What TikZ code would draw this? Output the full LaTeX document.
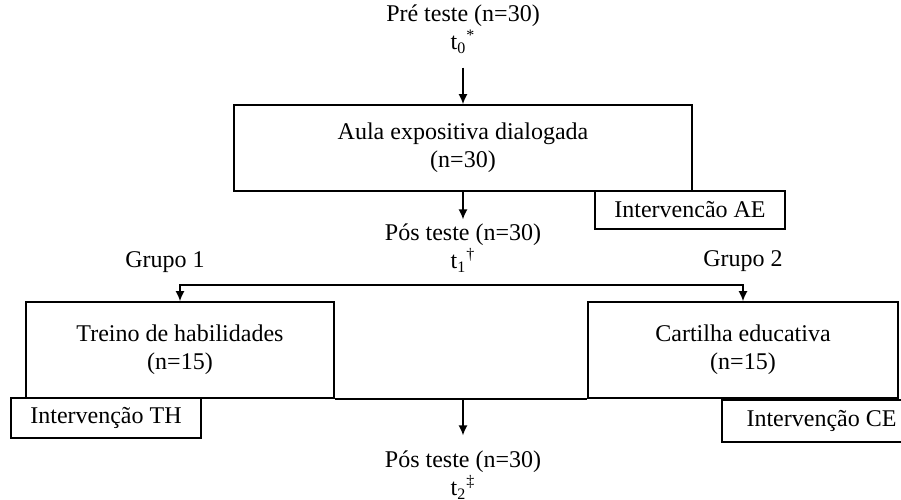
\documentclass[tikz,border=0pt]{standalone}
\usepackage{fontspec}
\setmainfont{Liberation Serif}
\usetikzlibrary{arrows.meta}

\newcommand{\tmark}[2]{t\textsubscript{#1}\textsuperscript{#2}}

\begin{document}
\begin{tikzpicture}[x=0.5pt,y=-0.5pt,
	every node/.style={font=\fontsize{12}{14}\selectfont},
	txt/.style={align=center,inner sep=2pt},
	box/.style={draw,line width=0.8pt,align=center,inner sep=0pt},
	arr/.style={line width=0.8pt,-{Latex[length=5pt,width=4.5pt]}}]
	\useasboundingbox (0,0) rectangle (901,499);
	\node [txt] (pre) at (463,29) {Pré teste (n=30)\\\tmark{0}{*}};
	\node [box,minimum width=229pt,minimum height=43pt] (ae) at (463,148) {Aula expositiva dialogada\\(n=30)};
	\node [box,minimum width=95pt,minimum height=19pt] (aetag) at (690,210) {Intervencão AE};
	\node [txt] (pos1) at (463,248) {Pós teste (n=30)\\\tmark{1}{\textdagger}};
	\node [txt] (grp1) at (165,262) {Grupo 1};
	\node [txt] (grp2) at (743,261) {Grupo 2};
	\node [box,minimum width=154pt,minimum height=48pt] (th) at (180,350) {Treino de habilidades\\(n=15)};
	\node [box,minimum width=155pt,minimum height=48pt] (ce) at (743,350) {Cartilha educativa\\(n=15)};
	\node [box,minimum width=95pt,minimum height=20pt] (thtag) at (106,418) {Intervenção TH};
	\node [box,minimum width=99.5pt,minimum height=21pt] (cetag) at (821.5,421) {Intervenção CE};
	\node [txt] (pos2) at (463,475) {Pós teste (n=30)\\\tmark{2}{\textdaggerdbl}};
	\coordinate (split) at (463,285);
	\draw [arr,shorten <=5pt] (pre) -- (ae);
	\draw [arr] (ae) -- (pos1);
	\draw [arr] (split) -| (th);
	\draw [arr] (split) -| (ce);
	\draw [line width=0.8pt] (th.south east) -- (ce.south west);
	\draw [arr,shorten >=5.5pt] (pos2.north |- th.south) -- (pos2);
\end{tikzpicture}
\end{document}
